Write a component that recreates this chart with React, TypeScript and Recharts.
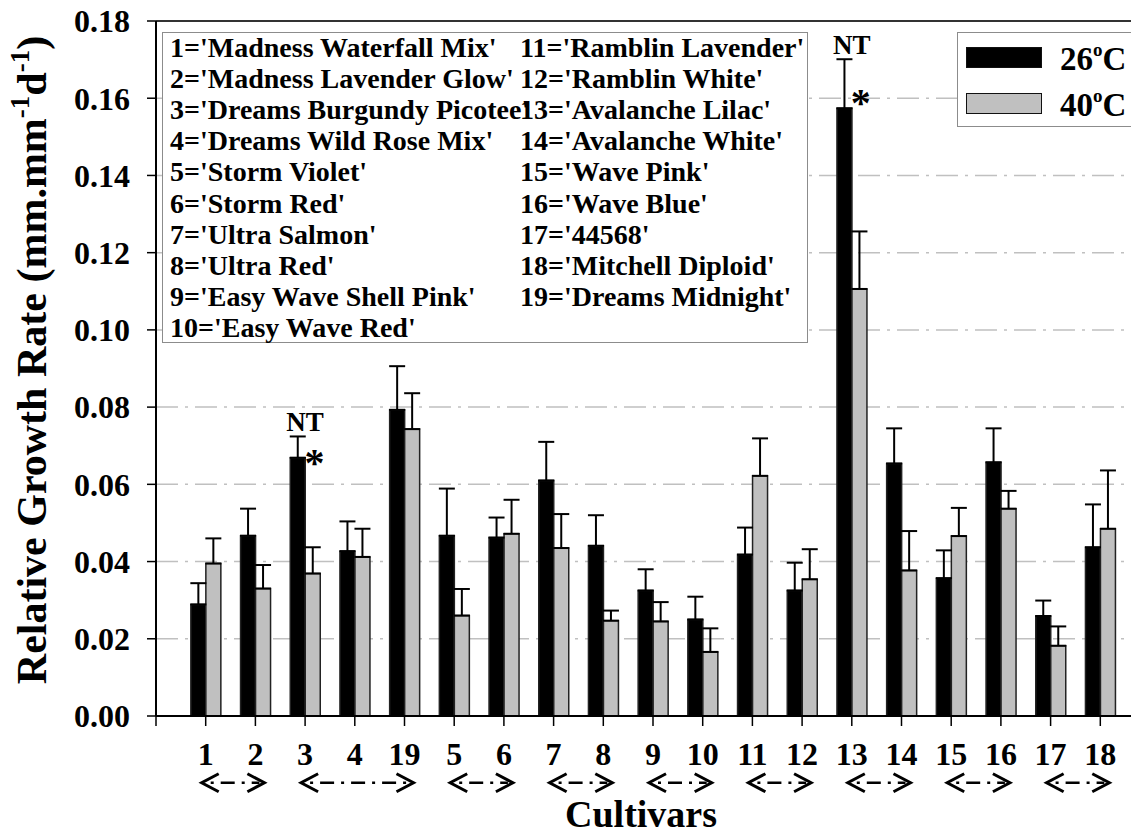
import React from 'react';
import {
  BarChart, Bar, XAxis, YAxis, CartesianGrid, ErrorBar, ReferenceLine, ReferenceDot, Legend,
} from 'recharts';

// cultivar order along the x axis (19 sits between 4 and 5)
const positions = [1, 2, 3, 4, 5, 6, 7, 8, 9, 10, 11, 12, 13, 14, 15, 16, 17, 18, 19];
const tickLabels = ['1', '2', '3', '4', '19', '5', '6', '7', '8', '9', '10', '11', '12', '13', '14', '15', '16', '17', '18'];

// relative growth rate, mean and SE, per temperature
const rgr26 = [0.0289, 0.0467, 0.0669, 0.0427, 0.0793, 0.0467, 0.0462, 0.0610, 0.0441, 0.0325, 0.0250, 0.0418, 0.0325, 0.1574, 0.0654, 0.0357, 0.0657, 0.0259, 0.0437];
const se26 = [0.0055, 0.0070, 0.0055, 0.0077, 0.0113, 0.0122, 0.0052, 0.0100, 0.0079, 0.0055, 0.0059, 0.0070, 0.0072, 0.0127, 0.0091, 0.0072, 0.0088, 0.0040, 0.0111];
const rgr40 = [0.0395, 0.0330, 0.0369, 0.0412, 0.0743, 0.0260, 0.0472, 0.0435, 0.0247, 0.0245, 0.0166, 0.0622, 0.0354, 0.1106, 0.0377, 0.0466, 0.0537, 0.0182, 0.0485];
const se40 = [0.0065, 0.0061, 0.0068, 0.0073, 0.0093, 0.0069, 0.0088, 0.0088, 0.0026, 0.0050, 0.0061, 0.0097, 0.0078, 0.0149, 0.0102, 0.0073, 0.0046, 0.0050, 0.0151];

const yTicks = [0, 0.02, 0.04, 0.06, 0.08, 0.1, 0.12, 0.14, 0.16, 0.18];
const seriesNames = ['26', '40'];

const cultivarKeyLeft = [
  "1='Madness Waterfall Mix'",
  "2='Madness Lavender Glow'",
  "3='Dreams Burgundy Picotee'",
  "4='Dreams Wild Rose Mix'",
  "5='Storm Violet'",
  "6='Storm Red'",
  "7='Ultra Salmon'",
  "8='Ultra Red'",
  "9='Easy Wave Shell Pink'",
  "10='Easy Wave Red'",
];
const cultivarKeyRight = [
  "11='Ramblin Lavender'",
  "12='Ramblin White'",
  "13='Avalanche Lilac'",
  "14='Avalanche White'",
  "15='Wave Pink'",
  "16='Wave Blue'",
  "17='44568'",
  "18='Mitchell Diploid'",
  "19='Dreams Midnight'",
];

// groups of cultivars joined by arrows under the axis (x positions)
const arrowGroups = [[1, 2], [3, 5], [6, 7], [8, 9], [10, 11], [12, 13], [14, 15], [16, 17], [18, 19]];
// NT marks above the 26C error bar, asterisks beside the bar
const ntPositions = [3, 14];
const starMarks = [{ pos: 3.19, y: 0.0658 }, { pos: 14.18, y: 0.1592 }];

const data = positions.map((p, i) => ({
  pos: p,
  t26: rgr26[i],
  e26: [0, se26[i]],
  t40: rgr40[i],
  e40: [0, se40[i]],
}));

const FONT = '"Liberation Serif", "Times New Roman", serif';
const ARROW_Y = -0.0173;

const GroupArrow = (props: any) => {
  const { x1, y1, x2 } = props;
  const left = x1 - 4;
  const right = x2 + 9;
  const y = y1;
  return (
    <g stroke="#000" fill="none">
      <polyline points={`${left + 17},${y - 9} ${left},${y} ${left + 17},${y + 9}`} strokeWidth={3} />
      <polyline points={`${right - 17},${y - 9} ${right},${y} ${right - 17},${y + 9}`} strokeWidth={3} />
      <line x1={left + 9} y1={y} x2={right - 5} y2={y} strokeWidth={2.5} strokeDasharray="3 7 14 7" />
    </g>
  );
};

const KeyBoxes = ({ payload }: any) => {
  const items = payload || [];
  return (
    <div style={{ fontFamily: FONT, fontWeight: 'bold', color: '#000' }}>
      <div style={{ position: 'absolute', left: 162, top: 32, width: 646, height: 311, border: '1.5px solid #8c8c8c', background: '#fff', boxSizing: 'border-box' }} />
      <div style={{ position: 'absolute', left: 170, top: 31.6, fontSize: 28, lineHeight: '31.2px', whiteSpace: 'nowrap', textAlign: 'left' }}>
        {cultivarKeyLeft.map((t) => <div key={t}>{t}</div>)}
      </div>
      <div style={{ position: 'absolute', left: 520, top: 31.6, fontSize: 28, lineHeight: '31.2px', whiteSpace: 'nowrap', textAlign: 'left' }}>
        {cultivarKeyRight.map((t) => <div key={t}>{t}</div>)}
      </div>

      <div style={{ position: 'absolute', left: 957, top: 32, width: 182, height: 95, border: '1.5px solid #8c8c8c', background: '#fff', boxSizing: 'border-box' }} />
      {items.map((it: any, i: number) => (
        <React.Fragment key={it.value}>
          <div style={{ position: 'absolute', left: 966, top: 47 + i * 46, width: 76, height: 21, background: it.color, border: '1.5px solid #111', boxSizing: 'border-box' }} />
          <div style={{ position: 'absolute', left: 1060, top: 43.4 + i * 46, fontSize: 33, lineHeight: '33px', whiteSpace: 'nowrap' }}>
            {it.value}<span style={{ fontSize: 19, position: 'relative', top: -14 }}>o</span>C
          </div>
        </React.Fragment>
      ))}
    </div>
  );
};

export default function App() {
  return (
    <div style={{ margin: -8, width: 1139, height: 839, overflow: 'hidden', background: '#fff', position: 'relative' }}>
      <BarChart width={1160} height={839} data={data} margin={{ top: 21, right: 10, bottom: 63, left: 56 }} barGap={0}>
        <CartesianGrid vertical={false} stroke="#c0c0c0" strokeWidth={1.5} strokeDasharray="22 7 3 7" />
        <XAxis
          type="number"
          dataKey="pos"
          domain={[0, 20]}
          ticks={[0, ...positions]}
          interval={0}
          tickFormatter={(v: number) => (v === 0 ? '' : tickLabels[v - 1])}
          height={60}
          tickSize={10}
          tickMargin={16}
          axisLine={{ stroke: '#000', strokeWidth: 2 }}
          tickLine={{ stroke: '#000', strokeWidth: 1.5 }}
          tick={{ fontSize: 32, fontWeight: 'bold', fill: '#000', fontFamily: FONT }}
          label={() => (
            <text x={641} y={827} textAnchor="middle" fontSize={38} fontWeight="bold" fontFamily={FONT} fill="#000">Cultivars</text>
          )}
        />
        <YAxis
          domain={[0, 0.18]}
          ticks={yTicks}
          width={100}
          tickSize={9}
          tickMargin={17}
          tickFormatter={(v: number) => v.toFixed(2)}
          axisLine={{ stroke: '#000', strokeWidth: 2 }}
          tickLine={{ stroke: '#000', strokeWidth: 1.5 }}
          tick={{ fontSize: 32, fontWeight: 'bold', fill: '#000', fontFamily: FONT }}
          label={() => (
            <text transform="translate(46,360) rotate(-90)" x={0} y={0} textAnchor="middle" fontSize={42} fontWeight="bold" fontFamily={FONT} fill="#000">
              Relative Growth Rate (mm.mm<tspan dy={-17} fontSize={27}>-1</tspan><tspan dy={17}>d</tspan><tspan dy={-17} fontSize={27}>-1</tspan><tspan dy={17}>)</tspan>
            </text>
          )}
        />
        <Legend layout="horizontal" verticalAlign="middle" align="center" wrapperStyle={{ left: 0, top: 0, width: 0, height: 0 }} content={<KeyBoxes />} />
        <Bar dataKey="t26" name={seriesNames[0]} fill="#000" stroke="#222" strokeWidth={1.5} barSize={15} isAnimationActive={false}>
          <ErrorBar dataKey="e26" direction="y" width={8} stroke="#000" strokeWidth={2} />
        </Bar>
        <Bar dataKey="t40" name={seriesNames[1]} fill="#c0c0c0" stroke="#222" strokeWidth={1.5} barSize={15} isAnimationActive={false}>
          <ErrorBar dataKey="e40" direction="y" width={8} stroke="#000" strokeWidth={2} />
        </Bar>
        <ReferenceLine y={0.18} stroke="#333" strokeWidth={2} />
        {arrowGroups.map(([a, b]) => (
          <ReferenceLine
            key={`arr${a}`}
            segment={[{ x: a, y: ARROW_Y }, { x: b, y: ARROW_Y }]}
            ifOverflow="visible"
            shape={GroupArrow}
          />
        ))}
        {ntPositions.map((p) => (
          <ReferenceDot
            key={`nt${p}`}
            x={p}
            y={rgr26[p - 1] + se26[p - 1]}
            r={1}
            fill="none"
            stroke="none"
            ifOverflow="visible"
            label={{ value: 'NT', position: 'top', offset: 4, fontSize: 27, fontWeight: 'bold', fill: '#000', fontFamily: FONT }}
          />
        ))}
        {starMarks.map((s) => (
          <ReferenceDot
            key={`st${s.pos}`}
            x={s.pos}
            y={s.y}
            r={1}
            fill="none"
            stroke="none"
            ifOverflow="visible"
            label={{ value: '*', position: 'center', fontSize: 40, fontWeight: 'bold', fill: '#000', fontFamily: FONT }}
          />
        ))}
      </BarChart>
    </div>
  );
}
